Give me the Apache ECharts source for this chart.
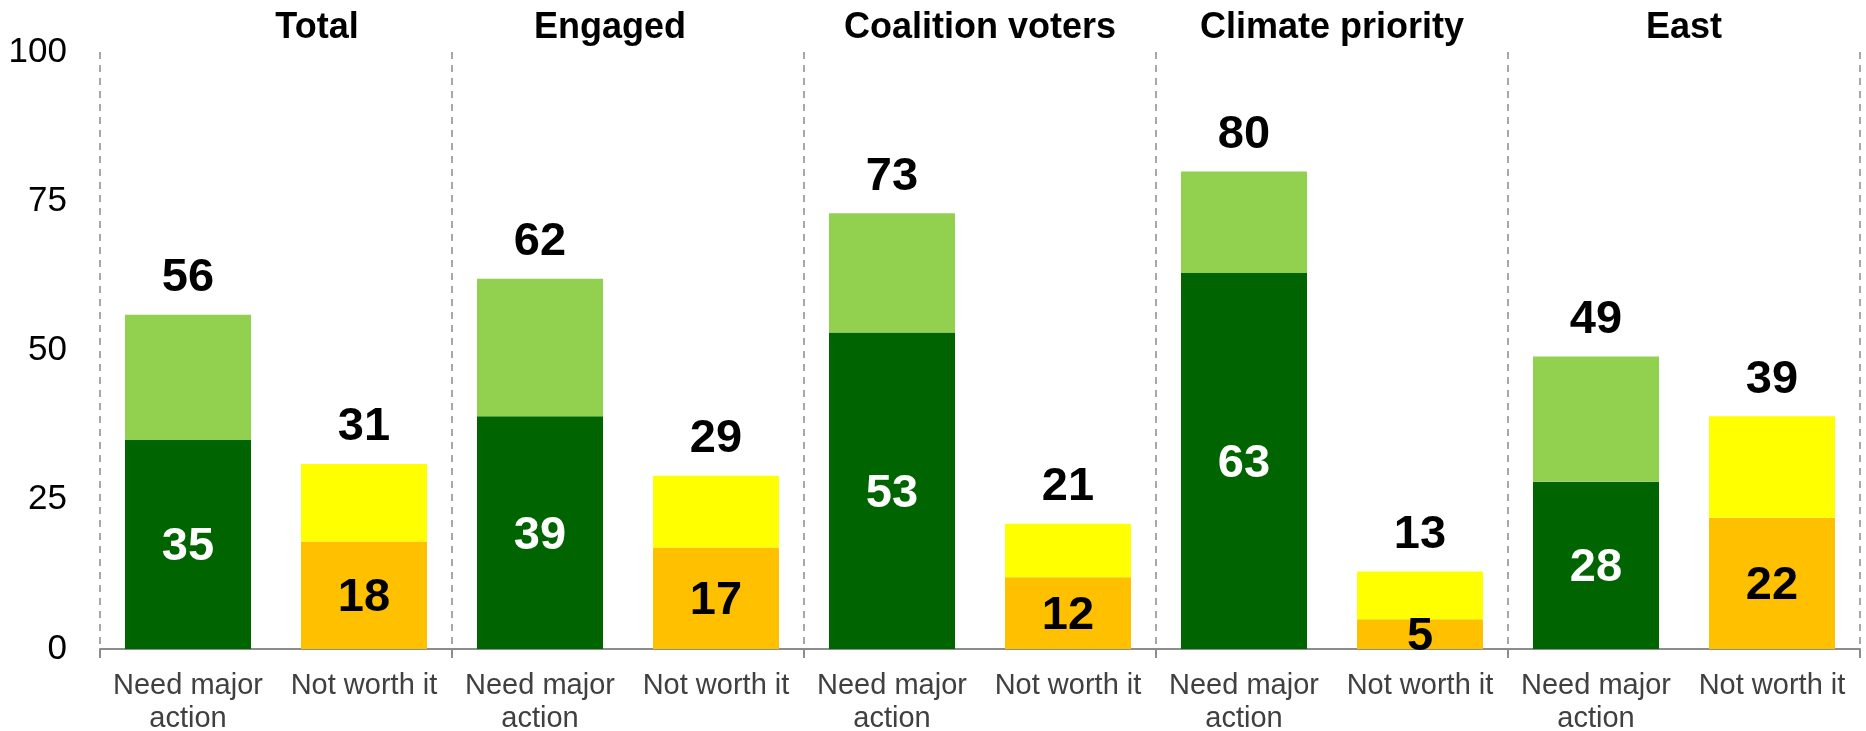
<!DOCTYPE html>
<html>
<head>
<meta charset="utf-8">
<script src="https://cdn.jsdelivr.net/npm/echarts@6/dist/echarts.min.js"></script>
<style>
html,body{margin:0;padding:0;background:#fff;}
#chart{width:1866px;height:731px;}
</style>
</head>
<body>
<div id="chart"></div>
<script>
const groups = ['Total', 'Engaged', 'Coalition voters', 'Climate priority', 'East'];
const answers = ['Need major\naction', 'Not worth it'];
const majorStrong = [35, 39, 53, 63, 28];
const majorTotal = [56, 62, 73, 80, 49];
const notStrong = [18, 17, 12, 5, 22];
const notTotal = [31, 29, 21, 13, 39];
const yTicks = [0, 25, 50, 75, 100];

const COL = {
  darkGreen: '#006400', lightGreen: '#92D050',
  orange: '#FFC000', yellow: '#FFFF00'
};

const categories = [];
const baseData = [];
const topData = [];
const totals = [];
groups.forEach((g, i) => {
  categories.push(answers[0], answers[1]);
  baseData.push({ value: majorStrong[i], itemStyle: { color: COL.darkGreen }, label: { color: '#ffffff' } });
  baseData.push({ value: notStrong[i], itemStyle: { color: COL.orange }, label: { color: '#000000' } });
  topData.push({ value: majorTotal[i] - majorStrong[i], itemStyle: { color: COL.lightGreen } });
  topData.push({ value: notTotal[i] - notStrong[i], itemStyle: { color: COL.yellow } });
  totals.push(majorTotal[i], notTotal[i]);
});

const titleData = groups.map((g, i) => {
  const item = { value: g };
  if (i === 0) item.textStyle = { padding: [0, 0, 0, 82] };
  if (i === 1) item.textStyle = { padding: [0, 36, 0, 0] };
  return item;
});

const chart = echarts.init(document.getElementById('chart'), null, { renderer: 'canvas' });
chart.setOption({
  animation: false,
  backgroundColor: '#ffffff',
  textStyle: { fontFamily: 'Liberation Sans, Arial, sans-serif' },
  grid: { left: 100, right: 6, top: 52, bottom: 82, containLabel: false, outerBoundsMode: 'none' },
  xAxis: [
    {
      type: 'category', data: categories, position: 'bottom',
      axisLine: { show: true, lineStyle: { color: '#8c8c8c', width: 2 } },
      axisTick: { show: false },
      splitLine: { show: false },
      axisLabel: { interval: 0, fontSize: 29, lineHeight: 33, color: '#404040', margin: 20,
                   fontFamily: 'Liberation Sans, Arial, sans-serif' }
    },
    {
      type: 'category', data: groups, position: 'bottom',
      axisLine: { show: false },
      axisTick: { show: true, length: 9, lineStyle: { color: '#8c8c8c', width: 2 } },
      axisLabel: { show: false },
      splitLine: { show: true, lineStyle: { color: '#8c8c8c', width: 1.5, type: [7, 6] } }
    },
    {
      type: 'category', data: titleData, position: 'top',
      axisLine: { show: false }, axisTick: { show: false }, splitLine: { show: false },
      axisLabel: { interval: 0, fontSize: 36, fontWeight: 'bold', color: '#000000', margin: 6,
                   fontFamily: 'Liberation Sans, Arial, sans-serif' }
    }
  ],
  yAxis: {
    type: 'value', min: 0, max: 100, interval: 25,
    axisLine: { show: false }, axisTick: { show: false }, splitLine: { show: false },
    axisLabel: { fontSize: 35, color: '#000000', margin: 33,
                 fontFamily: 'Liberation Sans, Arial, sans-serif',
                 formatter: v => yTicks.includes(v) ? String(v) : '' }
  },
  series: [
    {
      name: 'strong', type: 'bar', stack: 's', xAxisIndex: 0, barCategoryGap: '28.4%',
      data: baseData,
      label: { show: true, position: 'inside', offset: [0, 3], fontSize: 47, fontWeight: 'bold',
               fontFamily: 'Liberation Sans, Arial, sans-serif' }
    },
    {
      name: 'rest', type: 'bar', stack: 's', xAxisIndex: 0, barCategoryGap: '28.4%',
      data: topData,
      label: { show: true, position: 'top', distance: 13, fontSize: 47, fontWeight: 'bold', color: '#000000',
               fontFamily: 'Liberation Sans, Arial, sans-serif',
               formatter: p => String(totals[p.dataIndex]) }
    }
  ]
});
</script>
</body>
</html>
